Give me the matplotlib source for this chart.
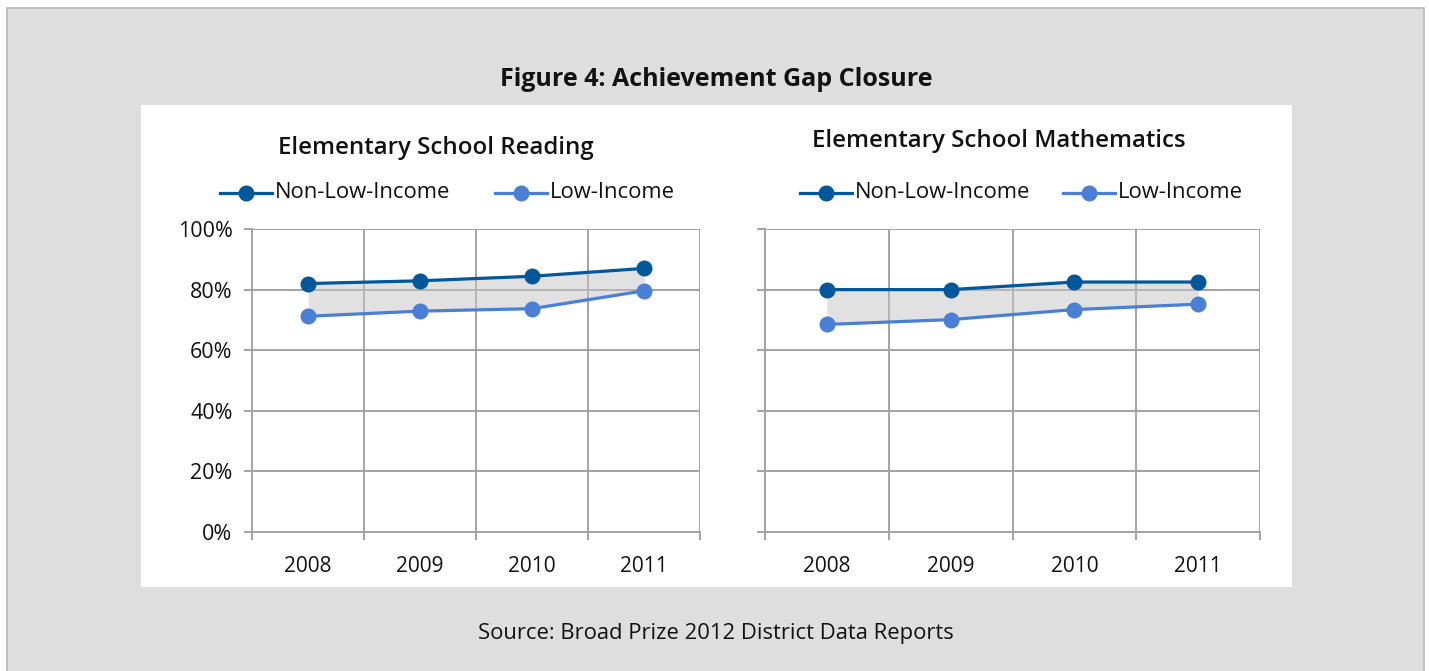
import numpy as np
import matplotlib
matplotlib.use("Agg")
import matplotlib.pyplot as plt
from matplotlib.patches import Rectangle
from matplotlib.ticker import FixedLocator, PercentFormatter

plt.rcParams['font.family'] = ['Open Sans', 'DejaVu Sans']

years = ['2008', '2009', '2010', '2011']
reading_non_low = [82.0, 82.9, 84.4, 87.0]
reading_low = [71.2, 72.9, 73.7, 79.6]
math_non_low = [80.0, 80.0, 82.5, 82.5]
math_low = [68.5, 70.1, 73.4, 75.2]

dark_blue = '#00579b'
light_blue = '#4a7fd6'
grid_col = '#a3a3a3'

W, H = 1429, 671
fig = plt.figure(figsize=(W / 100, H / 100), dpi=100)
fig.patch.set_facecolor('white')

# gray panel and white chart area (pixel coords -> figure fraction)
def px_rect(x0, y0, x1, y1, **kw):
    r = Rectangle((x0 / W, 1 - y1 / H), (x1 - x0) / W, (y1 - y0) / H,
                  transform=fig.transFigure, zorder=-10, **kw)
    fig.patches.append(r)

px_rect(7, 8, 1424, 675, facecolor='#dedede', edgecolor='#b8b8b8', linewidth=1.2)
px_rect(141, 105, 1292, 587, facecolor='white', edgecolor='none')

fig.text(716 / W, 1 - 79 / H, 'Figure 4: Achievement Gap Closure', ha='center', va='center',
         fontsize=18, fontweight='bold', color='#111111')
fig.text(716 / W, 1 - 634 / H, 'Source: Broad Prize 2012 District Data Reports', ha='center',
         va='center', fontsize=15.8, color='#111111')

panels = [
    dict(box=(252, 700), title='Elementary School Reading', tx=436, ty=148,
         non_low=reading_non_low, low=reading_low, leg=(220, 495), show_y=True),
    dict(box=(765, 1260), title='Elementary School Mathematics', tx=999, ty=141,
         non_low=math_non_low, low=math_low, leg=(800, 1063), show_y=False),
]

x = np.arange(len(years))
for p in panels:
    x0, x1 = p['box']
    ax = fig.add_axes([x0 / W, 1 - 532 / H, (x1 - x0) / W, (532 - 229) / H])
    ax.set_facecolor('white')
    ax.set_xlim(-0.5, len(years) - 0.5)
    ax.set_ylim(0, 100)

    ax.fill_between(x, p['low'], p['non_low'], color='#c4c4c4', alpha=0.5, linewidth=0, zorder=2)
    ax.plot(x, p['non_low'], color=dark_blue, lw=2.3, marker='o', ms=10.5, zorder=4)
    ax.plot(x, p['low'], color=light_blue, lw=2.3, marker='o', ms=10.5, zorder=3)

    ax.yaxis.set_major_locator(FixedLocator([0, 20, 40, 60, 80, 100]))
    ax.yaxis.set_major_formatter(PercentFormatter(decimals=0))
    ax.set_xticks(x)
    ax.set_xticklabels(years)
    ax.xaxis.set_minor_locator(FixedLocator(np.arange(-0.5, len(years), 1.0)))

    ax.grid(True, axis='y', which='major', color=grid_col, lw=1.4, zorder=1)
    ax.grid(True, axis='x', which='minor', color=grid_col, lw=1.4, zorder=1)
    ax.set_axisbelow(True)
    for side, sp in ax.spines.items():
        sp.set_visible(side in ('left', 'bottom'))
        sp.set_color(grid_col)
        sp.set_linewidth(1.4)

    ax.tick_params(axis='x', which='major', length=0, pad=17, labelsize=15, labelcolor='#111111')
    ax.tick_params(axis='x', which='minor', length=6, width=1.4, color=grid_col, direction='out')
    ax.tick_params(axis='y', length=6, width=1.4, color=grid_col, pad=8,
                   labelsize=15.5, labelcolor='#111111', labelleft=p['show_y'])

    fig.text(p['tx'] / W, 1 - p['ty'] / H, p['title'], ha='center', va='center',
             fontsize=17.3, fontweight='semibold', color='#111111')

    # legend drawn as in the source: line-marker-line then label
    for lx, col, lab in zip(p['leg'], [dark_blue, light_blue], ['Non-Low-Income', 'Low-Income']):
        ly = 1 - 193 / H
        fig.add_artist(plt.Line2D([lx / W, (lx + 52) / W], [ly, ly], transform=fig.transFigure,
                                  color=col, lw=2.3))
        fig.add_artist(plt.Line2D([(lx + 26) / W], [ly], transform=fig.transFigure,
                                  color=col, marker='o', ms=10.5))
        fig.text((lx + 55) / W, ly, lab, ha='left', va='center', fontsize=15.8, color='#111111')

fig.savefig('out.png', dpi=100)
